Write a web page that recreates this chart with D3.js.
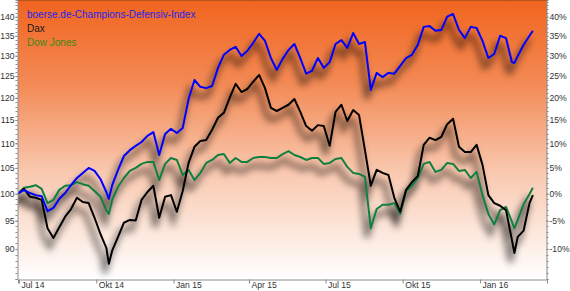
<!DOCTYPE html>
<html>
<head>
<meta charset="utf-8">
<script src="https://cdnjs.cloudflare.com/ajax/libs/d3/7.8.5/d3.min.js"></script>
<style>
  body { margin: 0; background: #fff; }
  svg { display: block; font-family: "Liberation Sans", Arial, sans-serif; }
</style>
</head>
<body>
<svg id="chart" width="570" height="291"></svg>
<script>
// weekly closes, indexed to 100 on 1 Jul 2014
var dates = ["2014-06-30","2014-07-07","2014-07-14","2014-07-21","2014-07-28","2014-08-04","2014-08-11","2014-08-18","2014-08-25",
  "2014-09-01","2014-09-08","2014-09-15","2014-09-22","2014-09-29","2014-10-06","2014-10-13","2014-10-16","2014-10-20","2014-10-27",
  "2014-11-03","2014-11-10","2014-11-17","2014-11-24","2014-12-01","2014-12-08","2014-12-15","2014-12-22","2014-12-29",
  "2015-01-05","2015-01-12","2015-01-19","2015-01-26","2015-02-02","2015-02-09","2015-02-16","2015-02-23","2015-03-02","2015-03-09",
  "2015-03-16","2015-03-23","2015-03-30","2015-04-06","2015-04-13","2015-04-20","2015-04-27","2015-05-04","2015-05-11","2015-05-18",
  "2015-05-25","2015-06-01","2015-06-08","2015-06-15","2015-06-22","2015-06-29","2015-07-06","2015-07-13","2015-07-20","2015-07-27",
  "2015-08-03","2015-08-10","2015-08-17","2015-08-24","2015-08-31","2015-09-07","2015-09-14","2015-09-21","2015-09-28","2015-10-05",
  "2015-10-12","2015-10-19","2015-10-26","2015-11-02","2015-11-09","2015-11-16","2015-11-23","2015-11-30","2015-12-07","2015-12-14",
  "2015-12-21","2015-12-28","2016-01-04","2016-01-11","2016-01-18","2016-01-25","2016-02-01","2016-02-08","2016-02-11","2016-02-15",
  "2016-02-22","2016-02-29","2016-03-04"];

var champions = [100.0,100.7,100.1,99.7,99.5,96.7,97.3,99.0,100.1,
  101.6,103.0,104.0,105.0,104.4,102.8,100.3,99.0,101.6,104.6,
  107.4,108.6,109.5,110.3,111.6,112.4,107.6,112.0,113.1,
  112.2,113.3,119.7,124.1,122.5,122.2,122.7,127.0,130.2,131.4,
  132.2,129.9,131.2,133.2,135.5,133.7,129.4,126.5,129.2,131.4,
  132.9,129.4,125.6,126.3,129.4,127.0,128.4,132.9,133.9,131.9,
  135.7,132.9,133.4,121.8,125.8,124.8,125.8,125.6,127.5,129.4,
  130.2,132.7,137.3,137.5,136.3,136.5,140.0,140.7,136.5,134.4,
  137.3,137.0,133.7,129.4,130.4,135.0,134.4,128.4,128.2,129.9,
  132.7,135.0,136.3];

var dax = [100.0,100.9,99.4,99.2,98.8,93.6,91.9,93.8,95.7,
  97.1,99.2,98.4,98.2,95.5,92.6,90.2,87.5,89.7,92.1,
  94.6,95.1,95.0,98.8,100.3,101.5,95.5,99.4,99.7,
  96.6,100.5,106.0,109.3,110.5,110.7,112.9,115.5,116.6,120.0,
  123.2,121.3,122.0,123.7,125.3,122.2,117.7,117.0,117.7,118.4,
  119.7,116.8,113.7,112.7,113.9,113.7,109.5,116.8,118.4,114.8,
  117.2,116.1,108.6,101.5,104.6,104.0,103.6,99.2,96.6,100.7,
  102.2,103.4,109.7,111.2,110.7,111.4,114.1,115.3,109.3,108.2,
  108.2,109.7,105.6,99.7,98.2,97.7,96.9,91.6,89.3,92.1,
  93.2,98.2,99.7];

var dowJones = [100.0,101.1,101.3,101.6,100.9,98.2,98.8,100.7,101.5,
  101.6,102.2,101.8,101.5,100.5,99.4,96.9,96.2,98.8,101.3,
  103.0,104.4,105.0,105.8,106.2,106.2,102.6,105.8,107.0,
  106.6,103.6,104.6,102.6,104.0,106.0,106.6,107.6,107.8,106.0,
  107.0,106.2,106.2,107.0,107.2,107.2,107.0,107.0,107.8,108.4,
  107.6,107.2,106.6,107.0,107.0,105.8,106.0,106.8,107.0,105.2,
  104.0,103.8,103.2,93.6,97.1,97.9,97.9,98.2,96.2,100.5,
  101.5,103.0,105.8,106.2,104.2,104.6,106.0,105.8,104.4,104.6,
  103.0,104.2,99.7,96.2,94.3,96.9,97.5,94.8,93.6,95.1,
  98.0,99.9,101.1];

var seriesNames = ["boerse.de-Champions-Defensiv-Index", "Dax", "Dow Jones"];
var seriesColors = ["#0000ff", "#000000", "#108040"];
var legendColors = ["#2424e8", "#1a1a1a", "#3a8a16"];

var yTicks = [90, 95, 100, 105, 110, 115, 120, 125, 130, 135, 140];
var pctTicks = [-10, -5, 0, 5, 10, 15, 20, 25, 30, 35, 40];
var xTickDates = ["2014-07-01", "2014-10-01", "2015-01-01", "2015-04-01", "2015-07-01", "2015-10-01", "2016-01-01"];
var xTickLabels = ["Jul 14", "Okt 14", "Jan 15", "Apr 15", "Jul 15", "Okt 15", "Jan 16"];

var parse = d3.timeParse("%Y-%m-%d");
var svg = d3.select("#chart");
var plotLeft = 18, plotRight = 547, plotTop = 0, plotBottom = 279;

var x = d3.scaleTime()
    .domain([new Date(2014, 5, 29, 20), new Date(2016, 2, 20, 20)])
    .range([plotLeft, plotRight]);
var y = d3.scaleLog()
    .domain([85.0, 144.5])
    .range([plotBottom, plotTop]);

var defs = svg.append("defs");
var grad = defs.append("linearGradient")
    .attr("id", "bg").attr("x1", 0).attr("y1", 0).attr("x2", 0).attr("y2", 1);
grad.append("stop").attr("offset", "0%").attr("stop-color", "#f1641f");
grad.append("stop").attr("offset", "30%").attr("stop-color", "#f38a55");
grad.append("stop").attr("offset", "62%").attr("stop-color", "#f9c9b0");
grad.append("stop").attr("offset", "100%").attr("stop-color", "#ffffff");

defs.append("clipPath").attr("id", "plot")
  .append("rect").attr("x", plotLeft).attr("y", plotTop)
    .attr("width", plotRight - plotLeft).attr("height", plotBottom - plotTop);

defs.append("filter").attr("id", "blur")
    .attr("x", "-10%").attr("y", "-10%").attr("width", "120%").attr("height", "120%")
  .append("feGaussianBlur").attr("stdDeviation", 3.6);

svg.append("rect")
    .attr("x", plotLeft).attr("y", plotTop)
    .attr("width", plotRight - plotLeft).attr("height", plotBottom - plotTop)
    .style("fill", "url(#bg)");

var series = [champions, dax, dowJones].map(function(vals, k) {
  return {
    name: seriesNames[k],
    color: seriesColors[k],
    values: vals.map(function(v, i) { return {date: parse(dates[i]), value: v}; })
  };
});

var line = d3.line()
    .x(function(d) { return x(d.date); })
    .y(function(d) { return y(d.value); });

var plot = svg.append("g").attr("clip-path", "url(#plot)");

// soft shadows below the lines
plot.append("g")
    .attr("transform", "translate(-4,9)")
    .attr("filter", "url(#blur)")
  .selectAll("path")
    .data(series)
  .enter().append("path")
    .attr("d", function(d) { return line(d.values); })
    .style("fill", "none")
    .style("stroke", "#000")
    .style("stroke-opacity", 0.5)
    .style("stroke-width", 5);

plot.selectAll(".line")
    .data(series.slice().reverse())
  .enter().append("path")
    .attr("class", "line")
    .attr("d", function(d) { return line(d.values); })
    .style("fill", "none")
    .style("stroke", function(d) { return d.color; })
    .style("stroke-width", 2)
    .style("stroke-linejoin", "round");

// frame
svg.append("line").attr("x1", plotLeft).attr("x2", plotRight).attr("y1", 0.5).attr("y2", 0.5)
    .style("stroke", "#b4561e");

var axisColor = "#8c8c8c";

var yAxis = d3.axisLeft(y).tickValues(yTicks).tickFormat(d3.format("d")).tickSize(2).tickPadding(1);
var gy = svg.append("g")
    .attr("class", "axis")
    .attr("transform", "translate(" + (plotLeft - 0.5) + ",0)")
    .call(yAxis);

var yAxisR = d3.axisRight(y)
    .tickValues(pctTicks.map(function(p) { return 100 + p; }))
    .tickFormat(function(v) { return Math.round(v - 100) + "%"; })
    .tickSize(2).tickPadding(1);
var gyr = svg.append("g")
    .attr("class", "axis")
    .attr("transform", "translate(" + (plotRight - 0.5) + ",0)")
    .call(yAxisR);

var xAxis = d3.axisBottom(x)
    .tickValues(xTickDates.map(parse))
    .tickFormat(function(d, i) { return xTickLabels[i]; })
    .tickSize(4);
var gx = svg.append("g")
    .attr("class", "axis")
    .attr("transform", "translate(0," + (plotBottom + 0.5) + ")")
    .call(xAxis);

// minor ticks on the value axes
var minor = d3.range(85, 145);
[[plotLeft - 0.5, -2], [plotRight - 0.5, 2]].forEach(function(a) {
  svg.append("g").selectAll("line")
      .data(minor)
    .enter().append("line")
      .attr("x1", a[0]).attr("x2", a[0] + a[1])
      .attr("y1", function(d) { return Math.round(y(d)) + 0.5; })
      .attr("y2", function(d) { return Math.round(y(d)) + 0.5; })
      .style("stroke", axisColor);
});

svg.selectAll(".axis .domain").attr("stroke", axisColor);
svg.selectAll(".axis .tick line").attr("stroke", axisColor);
svg.selectAll(".axis text")
    .style("font-family", "'Liberation Sans', Arial, sans-serif")
    .style("font-size", "8.6px")
    .style("fill", "#333");
gx.selectAll("text")
    .attr("text-anchor", "start")
    .attr("x", 2)
    .attr("y", 2)
    .attr("dy", "0.71em");

// legend
svg.append("g").selectAll("text")
    .data(seriesNames)
  .enter().append("text")
    .attr("x", 27)
    .attr("y", function(d, i) { return 18 + i * 14; })
    .style("font-size", "10px")
    .style("fill", function(d, i) { return legendColors[i]; })
    .text(function(d) { return d; });
</script>
</body>
</html>
